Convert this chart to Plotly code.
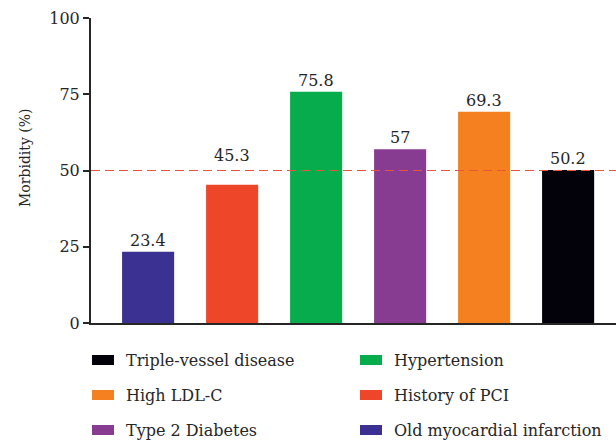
import plotly.graph_objects as go

# Morbidity of cardiovascular risk factors (%)
categories = ["Old myocardial infarction", "History of PCI", "Hypertension",
              "Type 2 Diabetes", "High LDL-C", "Triple-vessel disease"]
morbidity = [23.4, 45.3, 75.8, 57, 69.3, 50.2]
bar_colors = ["#3a3192", "#ee4628", "#07ac4c", "#873c92", "#f48020", "#03010a"]
reference_level = 50
y_ticks = [0, 25, 50, 75, 100]

# Legend layout: two columns, three rows
legend_order = ["Triple-vessel disease", "Hypertension",
                "High LDL-C", "History of PCI",
                "Type 2 Diabetes", "Old myocardial infarction"]

FONT = "DejaVu Serif"
TXT = "#262626"
W, H = 616, 443
ML, MR, MT, MB = 91, 0, 18, 120
pw, ph = W - ML - MR, H - MT - MB

fig = go.Figure()
fig.add_trace(go.Bar(
    x=categories, y=morbidity,
    marker=dict(color=bar_colors, line=dict(width=0)),
    showlegend=False,
    hoverinfo="x+y",
))

# Value labels above the bars; the label sitting just under the dashed
# reference line is lifted clear of it
for cat, v in zip(categories, morbidity):
    lift = 18 if reference_level - 6 < v < reference_level else 0
    fig.add_annotation(x=cat, y=v, text=f"{v:g}", showarrow=False,
                       yanchor="bottom", yshift=lift,
                       font=dict(family=FONT, size=16, color=TXT))

fig.add_hline(y=reference_level,
              line=dict(color="#e8553a", width=1.2, dash="9px,5px"))

# Y-axis title
fig.add_annotation(xref="paper", yref="paper",
                   x=(25 - ML) / pw, y=(H - MB - 158) / ph,
                   text="Morbidity (%)", textangle=-90, showarrow=False,
                   xanchor="center", yanchor="middle",
                   font=dict(family=FONT, size=14, color=TXT))

# Legend swatches and labels
color_of = dict(zip(categories, bar_colors))
col_x = [92, 360]
row_y = [360, 395, 430]
for i, name in enumerate(legend_order):
    cx = col_x[i % 2]
    cy = row_y[i // 2]
    fig.add_shape(type="rect", xref="paper", yref="paper",
                  x0=(cx - ML) / pw, x1=(cx + 22 - ML) / pw,
                  y0=(H - MB - (cy + 5)) / ph, y1=(H - MB - (cy - 5)) / ph,
                  fillcolor=color_of[name], line=dict(width=0))
    fig.add_annotation(xref="paper", yref="paper",
                       x=(cx + 32 - ML) / pw, y=(H - MB - cy) / ph,
                       text=name, showarrow=False,
                       xanchor="left", yanchor="middle",
                       font=dict(family=FONT, size=16, color=TXT))

fig.update_layout(
    width=W, height=H,
    margin=dict(l=ML, r=MR, t=MT, b=MB),
    plot_bgcolor="white", paper_bgcolor="white",
    bargap=0.38,
    font=dict(family=FONT, size=16, color=TXT),
    xaxis=dict(
        range=[-0.68, 5.57],
        showticklabels=False, ticks="",
        showline=True, linecolor=TXT, linewidth=2,
        showgrid=False, zeroline=False,
    ),
    yaxis=dict(
        range=[0, 100], tickvals=y_ticks,
        ticks="outside", ticklen=6, tickwidth=1.5, tickcolor=TXT,
        showline=True, linecolor=TXT, linewidth=2,
        showgrid=False, zeroline=False,
        tickfont=dict(family=FONT, size=16, color=TXT),
    ),
)

fig.write_html("out.html")
